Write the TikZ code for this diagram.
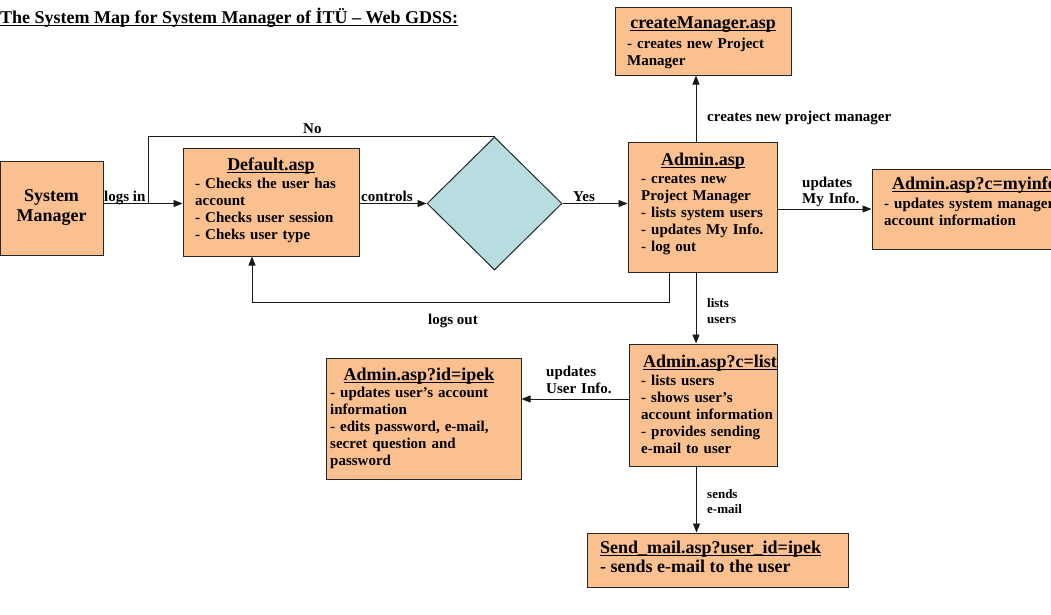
\documentclass[tikz,border=0pt]{standalone}
\usepackage{fontspec}
\setmainfont{Liberation Serif}
\usetikzlibrary{arrows.meta,shapes.geometric}
\definecolor{boxfill}{HTML}{FAC08F}
\definecolor{diafill}{HTML}{B7DDE0}
\newcommand\myul[1]{\setbox0\hbox{#1}\rlap{\rule[-2.8pt]{\wd0}{0.9pt}}\box0}
\tikzset{
  box/.style={draw=black!85, line width=1pt, fill=boxfill, inner sep=0pt},
  ln/.style={line width=0.9pt, draw=black!90},
  arr/.style={ln, -{Triangle[length=9pt,width=7pt]}},
  head/.style={anchor=base, inner sep=0pt, font=\bfseries\fontsize{18}{20}\selectfont},
  headw/.style={anchor=base west, inner sep=0pt, font=\bfseries\fontsize{18}{20}\selectfont},
  txt/.style={anchor=base west, inner sep=0pt, text width=#1, align=left, font=\bfseries\fontsize{15}{17}\selectfont},
  lbl/.style={anchor=base west, inner sep=0pt, font=\bfseries\fontsize{15}{17}\selectfont},
  slbl/.style={anchor=base west, inner sep=0pt, text width=60pt, align=left, font=\bfseries\fontsize{13}{16}\selectfont},
}
\begin{document}
\begin{tikzpicture}[x=1pt,y=-1pt]
\useasboundingbox (0,0) rectangle (1051,614);
% title
\node[anchor=base west, inner sep=0pt, font=\bfseries\fontsize{18}{20}\selectfont] (title) at (0,23) {\myul{The System Map for System Manager of İTÜ – Web GDSS:}};
% boxes
\node[box, minimum width=103pt, minimum height=94pt, align=center, font=\bfseries\fontsize{18}{20}\selectfont] (sm) at (51.5,208) {System\\Manager};
\node[box, minimum width=176pt, minimum height=108pt] (def) at (271,202) {};
\node[diamond, draw=black!85, line width=1pt, fill=diafill, minimum width=135pt, minimum height=133pt, inner sep=0pt] (dia) at (494.5,203.5) {};
\node[box, minimum width=149pt, minimum height=130pt] (adm) at (702.5,207) {};
\node[box, minimum width=176pt, minimum height=68pt] (cm) at (703,41) {};
\node[box, minimum width=206pt, minimum height=80pt] (mi) at (975,209) {};
\node[box, minimum width=148pt, minimum height=122pt] (lst) at (703,405) {};
\node[box, minimum width=195pt, minimum height=121pt] (ip) at (423.5,418.5) {};
\node[box, minimum width=261pt, minimum height=54pt] (sd) at (717.5,560) {};
% box texts
\node[head] (defH) at (271,170) {\myul{Default.asp}};
\node[txt=170pt] (defT) at (195,188) {- Checks the user has\\account\\- Checks user session\\- Cheks user type};
\node[head] (admH) at (703,165) {\myul{Admin.asp}};
\node[txt=140pt] (admT) at (641,183) {- creates new\\Project Manager\\- lists system users\\- updates My Info.\\- log out};
\node[head] (cmH) at (703,28) {\myul{createManager.asp}};
\node[txt=170pt] (cmT) at (627,48) {- creates new Project\\Manager};
\node[headw] (miH) at (892,189) {\myul{Admin.asp?c=myinfo}};
\node[txt=200pt] (miT) at (884,208) {- updates system manager’s\\account information};
\node[headw] (lstH) at (643,367) {\myul{Admin.asp?c=list}};
\node[txt=140pt] (lstT) at (641,385) {- lists users\\- shows user’s\\account information\\- provides sending\\e-mail to user};
\node[head] (ipH) at (419,380) {\myul{Admin.asp?id=ipek}};
\node[txt=190pt] (ipT) at (330,397) {- updates user’s account\\information\\- edits password, e-mail,\\secret question and\\password};
\node[headw] (sdH) at (600,553) {\myul{Send\_mail.asp?user\_id=ipek}};
\node[headw] (sdT) at (600,572) {- sends e-mail to the user};
% connectors
\coordinate (nb) at (148,203);
\coordinate (lo) at (252,302);
\draw[arr] (sm.east |- dia.west) -- (def.west |- dia.west);
\draw[ln] (dia.north) -| (nb);
\draw[arr] (def.east |- dia.west) -- (dia.west);
\draw[arr] (dia.east) -- (dia.east -| adm.west);
\draw[arr] ([xshift=-6.5pt]adm.north) -- ([xshift=-6.5pt]adm.north |- cm.south);
\draw[arr] ([xshift=-33.5pt]adm.south) |- (lo) -- ([xshift=-19pt]def.south);
\draw[arr] (adm.east |- mi.west) -- (mi.west);
\draw[arr] ([xshift=-6.5pt]adm.south) -- ([xshift=-6.5pt]adm.south |- lst.north);
\draw[arr] ([yshift=6pt]lst.west) -- ([yshift=6pt]lst.west -| ip.east);
\draw[arr] ([xshift=-6.5pt]lst.south) -- ([xshift=-6.5pt]lst.south |- sd.north);
% labels
\node[lbl] (lLogin) at (104,201) {logs in};
\node[lbl] (lCtrl) at (361,201) {controls};
\node[lbl] (lNo) at (303,133) {No};
\node[lbl] (lYes) at (573,201) {Yes};
\node[lbl] (lOut) at (428,324) {logs out};
\node[lbl] (lCm) at (707,121) {creates new project manager};
\node[txt=80pt, font=\bfseries\fontsize{15}{16}\selectfont] (lMy) at (802,187) {updates\\My Info.};
\node[txt=80pt, font=\bfseries\fontsize{15}{17}\selectfont] (lUi) at (546,376) {updates\\User Info.};
\node[slbl] (lLs) at (707,307) {lists\\users};
\node[slbl, font=\bfseries\fontsize{13}{15}\selectfont] (lSe) at (707,498) {sends\\e-mail};
\end{tikzpicture}
\end{document}
